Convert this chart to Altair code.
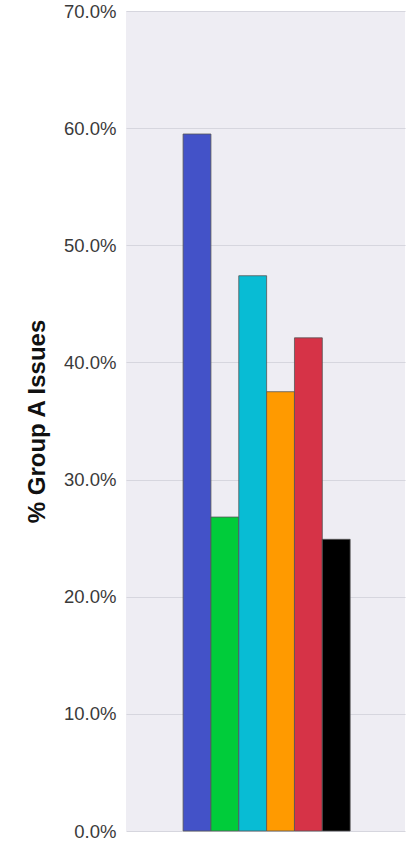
import altair as alt
import pandas as pd

groups = ["A", "B", "C", "D", "E", "F"]
values = [0.595, 0.268, 0.474, 0.375, 0.421, 0.249]
colors = ["#4352c8", "#00cc3a", "#08bcd4", "#ff9a00", "#d63347", "#000000"]

df = pd.DataFrame({"cat": ["all"] * len(groups), "group": groups, "value": values})

chart = alt.Chart(df).mark_bar(stroke="#555555", strokeWidth=0.8).encode(
    x=alt.X("cat:N", axis=None,
            scale=alt.Scale(paddingInner=0, paddingOuter=0.335, align=0.51)),
    xOffset=alt.XOffset("group:N", sort=groups,
                        scale=alt.Scale(paddingInner=0, paddingOuter=0)),
    y=alt.Y("value:Q", title="% Group A Issues",
            scale=alt.Scale(domain=[0, 0.7], nice=False),
            axis=alt.Axis(format=".1%", values=[0, 0.1, 0.2, 0.3, 0.4, 0.5, 0.6, 0.7],
                          labelFontSize=18.5, labelColor="#3a3a3a", labelFont="Liberation Sans",
                          titleFontSize=24, titleFont="Liberation Sans", titleFontWeight="bold",
                          titleColor="#111111", titlePadding=14,
                          domain=False, ticks=False, labelPadding=10,
                          gridColor="#d6d6de", gridWidth=1.2)),
    color=alt.Color("group:N", sort=groups, scale=alt.Scale(domain=groups, range=colors), legend=None),
).properties(
    width=279, height=820,
    autosize=alt.AutoSizeParams(type="none"),
    padding={"left": 126, "top": 11, "right": 5, "bottom": 15},
).configure_view(fill="#eeedf3", stroke=None)

chart.save("out.html", embed_options={"renderer": "svg", "actions": False})
